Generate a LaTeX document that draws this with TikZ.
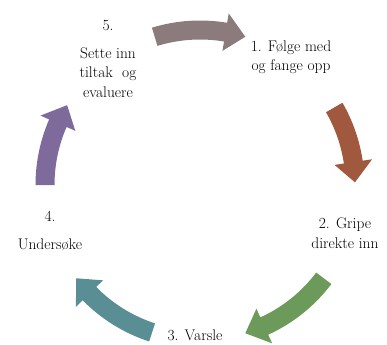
\documentclass[tikz,border=0pt]{standalone}
\usepackage{fontspec}
\setmainfont{Latin Modern Roman}
\definecolor{arrA}{HTML}{8C7B7D}
\definecolor{arrB}{HTML}{A0583F}
\definecolor{arrC}{HTML}{6B9A5A}
\definecolor{arrD}{HTML}{5A8E95}
\definecolor{arrE}{HTML}{7E6B9B}
\newcommand{\cycarrow}[3]{% start angle, end angle, colour
  \pgfmathsetmacro{\ah}{#2+7.5*sign(#1-#2)}
  \fill[#3] (#1:164.5) arc[start angle=#1, end angle=\ah, radius=164.5]
    -- (\ah:174) -- (#2:155) -- (\ah:136) -- (\ah:145.5)
    arc[start angle=\ah, end angle=#1, radius=145.5] -- cycle;
}
\begin{document}
\begin{tikzpicture}[x=1bp,y=1bp,
  lbl/.style={align=center,font=\fontsize{15.5}{19.5}\selectfont,inner sep=0pt}]
\useasboundingbox (-200,-160) rectangle (187,185);
\cycarrow{107}{73}{arrA}
\cycarrow{30}{1}{arrB}
\cycarrow{-37}{-73}{arrC}
\cycarrow{-108}{-143}{arrD}
\cycarrow{180}{149}{arrE}
\node[lbl] (t5) at (-92,126) {5.\\[8bp]Sette inn\\tiltak~ og\\evaluere};
\node[lbl] (t1) at (91,128) {1. Følge med\\og fange opp};
\node[lbl] (t2) at (145,-48) {2. Gripe\\direkte inn};
\node[lbl] (t3) at (-5,-150.5) {3. Varsle};
\node[lbl] (t4) at (-150,-46) {4.\\[8bp]Undersøke};
\end{tikzpicture}
\end{document}
